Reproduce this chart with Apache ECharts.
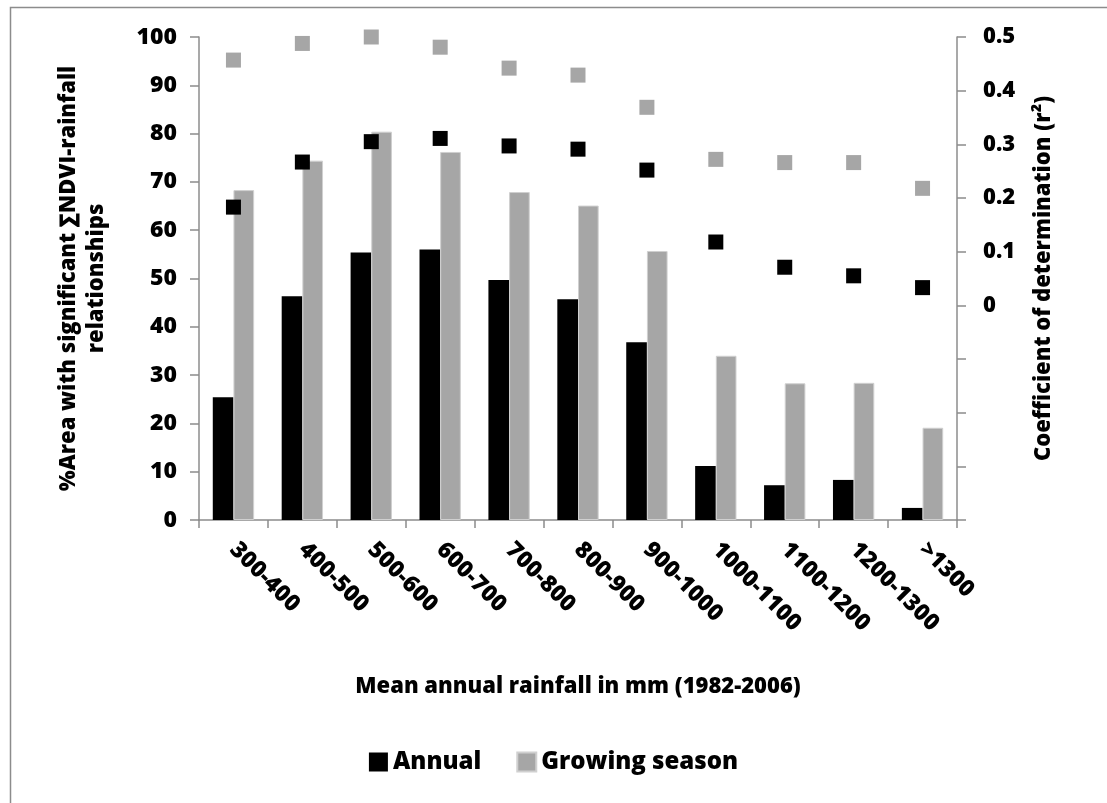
<!DOCTYPE html>
<html>
<head>
<meta charset="utf-8">
<script src="https://cdn.jsdelivr.net/npm/echarts@6/dist/echarts.min.js"></script>
<style>html,body{margin:0;padding:0;background:#fff}#c{width:1107px;height:803px}</style>
</head>
<body>
<div id="c"></div>
<script>
const categories = ['300-400','400-500','500-600','600-700','700-800','800-900','900-1000','1000-1100','1100-1200','1200-1300','>1300'];
const annualArea = [25.4, 46.3, 55.4, 56.0, 49.7, 45.7, 36.8, 11.2, 7.2, 8.3, 2.5];
const growingArea = [68.3, 74.4, 80.4, 76.2, 67.9, 65.1, 55.7, 34.0, 28.3, 28.4, 19.1];
const annualR2 = [0.183, 0.267, 0.305, 0.311, 0.297, 0.291, 0.252, 0.118, 0.071, 0.055, 0.033];
const growingR2 = [0.457, 0.488, 0.5, 0.481, 0.442, 0.429, 0.369, 0.272, 0.266, 0.266, 0.218];

const FONT = '"Open Sans", "Noto Sans", sans-serif';
const W = 800;
const BLACK = '#000000';
const GRAY = '#a6a6a6';
const AXIS = '#8c8c8c';

const chart = echarts.init(document.getElementById('c'));
chart.setOption({
  animation: false,
  textStyle: { fontFamily: FONT, fontWeight: W, color: '#000' },
  graphic: [{
    type: 'rect', left: 8, top: 5, shape: { width: 1200, height: 900 },
    style: { fill: 'none', stroke: '#8c8c8c', lineWidth: 1.5 }, silent: true
  }],
  grid: { left: 199, right: 150, top: 37, bottom: 283, containLabel: false },
  legend: {
    data: ['Annual', 'Growing season'],
    bottom: 24, left: 'center',
    itemWidth: 19, itemHeight: 19, itemGap: 35,
    icon: 'rect',
    textStyle: { fontFamily: FONT, fontWeight: W, fontSize: 24, color: '#000' }
  },
  xAxis: {
    type: 'category', data: categories,
    axisLine: { lineStyle: { color: AXIS, width: 1.5 } },
    axisTick: { show: true, length: 8, lineStyle: { color: AXIS, width: 1.5 } },
    axisLabel: { rotate: -45, fontSize: 23, fontWeight: W, color: '#000', margin: 26, fontFamily: FONT },
    name: 'Mean annual rainfall in mm (1982-2006)',
    nameLocation: 'middle', nameGap: 156,
    nameTextStyle: { fontSize: 22, fontWeight: W, color: '#000', fontFamily: FONT }
  },
  yAxis: [{
    type: 'value', min: 0, max: 100, interval: 10,
    splitLine: { show: false },
    axisLine: { show: true, lineStyle: { color: AXIS, width: 1.5 } },
    axisTick: { show: true, length: 9, lineStyle: { color: AXIS, width: 1.5 } },
    axisLabel: { fontSize: 23, fontWeight: W, color: '#000', margin: 22, fontFamily: FONT },
    name: '%Area with significant \u2211NDVI-rainfall\nrelationships',
    nameLocation: 'middle', nameGap: 88,
    nameTextStyle: { fontSize: 22, fontWeight: W, color: '#000', lineHeight: 28, fontFamily: FONT }
  }, {
    type: 'value', min: -0.4, max: 0.5, interval: 0.1, position: 'right',
    splitLine: { show: false },
    axisLine: { show: true, lineStyle: { color: AXIS, width: 1.5 } },
    axisTick: { show: true, length: 9, lineStyle: { color: AXIS, width: 1.5 } },
    axisLabel: {
      fontSize: 22, fontWeight: W, color: '#000', margin: 26, fontFamily: FONT,
      formatter: function (v) { return v < -1e-9 ? '' : String(Math.round(v * 10) / 10); }
    },
    name: 'Coefficient of determination (r\u00b2)',
    nameLocation: 'middle', nameGap: 76, nameRotate: 90,
    nameTextStyle: { fontSize: 22, fontWeight: W, color: '#000', fontFamily: FONT }
  }],
  series: [{
    name: 'Annual', type: 'bar', data: annualArea,
    itemStyle: { color: BLACK }, barGap: '0%', barCategoryGap: '40%'
  }, {
    name: 'Growing season', type: 'bar', data: growingArea,
    itemStyle: { color: GRAY, borderColor: '#d0d0d0', borderWidth: 1 }
  }, {
    name: 'Annual r2', type: 'scatter', yAxisIndex: 1, data: annualR2, clip: false,
    symbol: 'rect', symbolSize: 15, itemStyle: { color: BLACK, opacity: 1 }, z: 3
  }, {
    name: 'Growing r2', type: 'scatter', yAxisIndex: 1, data: growingR2, clip: false,
    symbol: 'rect', symbolSize: 15, itemStyle: { color: GRAY, opacity: 1 }, z: 3
  }]
});
</script>
</body>
</html>
